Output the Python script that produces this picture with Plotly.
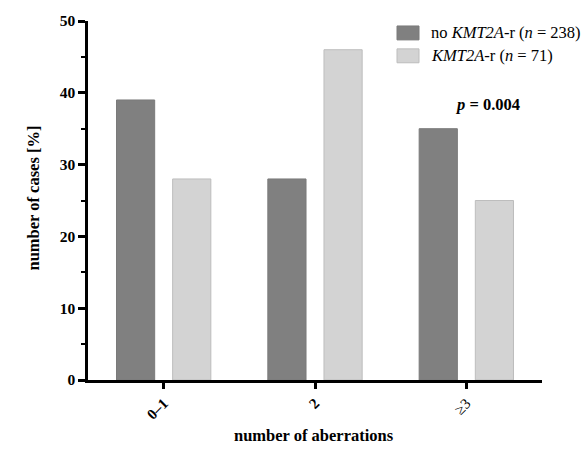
import plotly.graph_objects as go

categories = ["0–1", "2", "≥3"]
no_kmt2a = [39, 28, 35]
kmt2a = [28, 46, 25]
legend_labels = ["no <i>KMT2A</i>-r (<i>n</i> = 238)", "<i>KMT2A</i>-r (<i>n</i> = 71)"]
colors = ["#808080", "#d3d3d3"]
edge_colors = ["#7a7a7a", "#bdbdbd"]
p_text = "<i>p</i> = 0.004"

FONT = "Palatino Linotype, Book Antiqua, Palatino, Liberation Serif, serif"

fig = go.Figure()
for vals, name, c, ec in zip([no_kmt2a, kmt2a], legend_labels, colors, edge_colors):
    fig.add_trace(go.Bar(x=categories, y=vals, name=name, marker=dict(color=c, line=dict(color=ec, width=1)),
                         showlegend=False))

# custom legend
for i, (name, c, ec) in enumerate(zip(legend_labels, colors, edge_colors)):
    y0 = 1 - (5 + i * 23) / 361
    fig.add_shape(type="rect", xref="paper", yref="paper",
                  x0=(397 - 88) / 454, x1=(419 - 88) / 454,
                  y0=y0 - 14 / 361, y1=y0, fillcolor=c, line=dict(color=ec, width=1))
    fig.add_annotation(xref="paper", yref="paper", x=(429 - 88) / 454, y=y0 - 7 / 361,
                       text=name, showarrow=False, xanchor="left", yanchor="middle",
                       font=dict(family=FONT, size=16.5, color="#000"))

fig.add_annotation(x=2.14, y=38.4, text="<b>" + p_text + "</b>", showarrow=False,
                   font=dict(family=FONT, size=16.5, color="#000"))

fig.add_annotation(xref="paper", yref="paper", x=-66 / 454, y=(380 - 197) / 361, text="<b>number of cases [%]</b>",
                   textangle=-90, showarrow=False, font=dict(family=FONT, size=16.5, color="#000"))
fig.add_annotation(xref="paper", yref="paper", x=(314 - 88) / 454, y=-56 / 361,
                   text="<b>number of aberrations</b>", showarrow=False, yanchor="middle",
                   font=dict(family=FONT, size=16.5, color="#000"))

fig.update_layout(
    width=588, height=453,
    margin=dict(l=88, r=46, t=19, b=73),
    paper_bgcolor="white", plot_bgcolor="white",
    barmode="group", bargap=0.258, bargroupgap=0.32,
    font=dict(family=FONT, color="#000"),
)
fig.update_xaxes(range=[-0.5, 2.5], showline=True, linecolor="#000", linewidth=2.5,
                 ticks="outside", ticklen=6, tickwidth=2.5, tickcolor="#000", tickangle=-45,
                 tickfont=dict(family=FONT, size=15, color="#000"), showgrid=False)
fig.update_yaxes(range=[0, 50], tickvals=[0, 10, 20, 30, 40, 50], ticktext=["<b>%d</b>" % v for v in [0, 10, 20, 30, 40, 50]],
                 showline=True, linecolor="#000", linewidth=2.5,
                 ticks="outside", ticklen=7, tickwidth=2.5, tickcolor="#000",
                 minor=dict(tickvals=[5, 15, 25, 35, 45], ticks="outside", ticklen=4, tickwidth=2, tickcolor="#000"),
                 tickfont=dict(family=FONT, size=15.5, color="#000"), showgrid=False, zeroline=False)
fig.update_xaxes(ticktext=["<b>0–1</b>", "<b>2</b>", "≥3"], tickvals=categories)

fig.write_html("out.html")
